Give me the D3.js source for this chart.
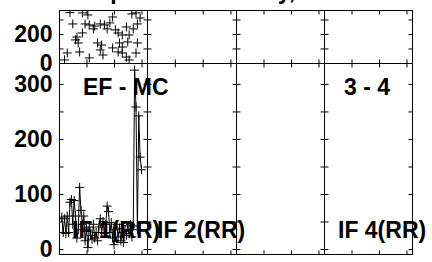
<!DOCTYPE html>
<html>
<head>
<meta charset="utf-8">
<script src="https://cdn.jsdelivr.net/npm/d3@7"></script>
<style>
    html, body { margin: 0; padding: 0; background: #fff; }
    svg { display: block; }
</style>
</head>
<body>
<div id="chart"></div>
<script>
// values
const columnCount = 4;
const xTicks = [0, 20, 40, 60];
const topYTicks = [0, 100, 200, 300];
const bottomYTicks = [0, 50, 100, 150, 200, 250, 300];
const headerLabels = ["EF - MC", "", "", "3 - 4"];
const footerLabels = ["IF 1(RR)", "IF 2(RR)", "", "IF 4(RR)"];
const titleText = "Spectrum Density, 10 - 1000";

// top row, first column: scatter of points
const scatterX = [8, 17, 21, 10, 19, 22, 26, 30, 33, 37, 39, 25, 35, 41, 43, 46, 49, 54, 57, 59, 53, 56,
    13, 12, 17, 14, 28, 31, 30, 44, 50, 51, 57, 6, 4, 15, 22, 32, 43, 46, 49, 51, 56, 46, 39];
const scatterY = [347, 345, 331, 269, 269, 262, 255, 269, 262, 276, 317, 235, 235, 228, 207, 193, 248, 235, 269, 310, 338, 345,
    179, 159, 207, 138, 138, 124, 90, 138, 145, 193, 138, 69, 21, 76, 35, 55, 76, 69, 41, 21, 69, 110, 104];

// bottom row, first column: series with markers
const seriesIndex = [2, 3, 4, 5, 6, 7, 8, 9, 10, 11, 12, 13, 14, 15, 16, 17, 18, 19, 20, 21, 22, 23, 24, 25, 26, 27, 28, 29, 30,
    31, 32, 33, 34, 35, 36, 37, 38, 39, 40, 41, 42, 43, 44, 45, 46, 47, 48, 49, 50, 51, 52, 53, 54, 55, 56, 57, 58, 59, 60];
const seriesValues = [58, 30, 55, 28, 60, 30, 85, 90, 45, 88, 60, 20, 35, 112, 70, 45, 60, 15, 38, 3, 40, 25, 18, 45, 20, 30, 15, 40, 55,
    30, 50, 28, 45, 78, 68, 30, 48, 20, 8, 35, 45, 22, 38, 15, 30, 12, 35, 25, 42, 28, 45, 22, 42, 325, 258, 35, 242, 167, 144];

class Chart {
    constructor() {
        const attrs = {
            container: "#chart",
            svgWidth: 432,
            svgHeight: 262,
            plotLeft: 59,
            plotRight: 412,
            plotTop: 10,
            rowSplit: 63,
            plotBottom: 254,
            tickSize: 4,
            markerSize: 4.5,
            fontSize: 23,
            defaultFont: "'Liberation Sans', Arial, Helvetica, sans-serif",
            headerOffsets: [24, 0, 0, 20],
            footerOffsets: [13, 10, 0, 14]
        };
        this.getState = () => attrs;
        this.setState = (d) => Object.assign(attrs, d);
    }

    render() {
        this.calculateProperties();
        this.drawSvg();
        this.drawPanels();
        this.drawData();
        this.drawLabels();
        return this;
    }

    calculateProperties() {
        const { plotLeft, plotRight, plotTop, rowSplit, plotBottom } = this.getState();

        const edgeScale = d3.scaleLinear().domain([0, columnCount]).range([plotLeft, plotRight]);
        const edges = d3.range(columnCount + 1).map(i => Math.round(edgeScale(i)));

        const xScales = edges.slice(0, -1).map((e, i) =>
            d3.scaleLinear().domain([0, 64]).range([e, edges[i + 1]]));

        const yTop = d3.scaleLinear().domain([0, 365]).range([rowSplit, plotTop]);
        const yBottom = d3.scaleLinear().domain([-9, 338]).range([plotBottom, rowSplit]);

        this.setState({ edges, xScales, yTop, yBottom });
    }

    drawSvg() {
        const { container, svgWidth, svgHeight, defaultFont, fontSize } = this.getState();

        const svg = d3.select(container)
            .append("svg")
            .attr("width", svgWidth)
            .attr("height", svgHeight)
            .attr("font-family", defaultFont)
            .attr("font-weight", "bold")
            .attr("font-size", fontSize);

        // title sits above the picture, only its descenders show
        svg.append("text")
            .attr("x", 95)
            .attr("y", -1.5)
            .text(titleText);

        this.setState({ svg });
    }

    drawPanels() {
        const { svg, edges, xScales, yTop, yBottom, tickSize, fontSize } = this.getState();

        const rows = [
            { y: yTop, ticks: topYTicks, fmt: d => (d % 200 === 0 ? d : "") },
            { y: yBottom, ticks: bottomYTicks, fmt: d => (d % 100 === 0 ? d : "") }
        ];

        rows.forEach((row, r) => {
            const [y0, y1] = row.y.range();
            xScales.forEach((x, c) => {
                const g = svg.append("g").attr("class", `panel r${r} c${c}`);
                const left = edges[c], right = edges[c + 1];

                const leftAxis = d3.axisLeft(row.y)
                    .tickValues(row.ticks)
                    .tickSize(-tickSize)
                    .tickPadding(7)
                    .tickFormat(c === 0 ? row.fmt : () => "");
                const rightAxis = d3.axisRight(row.y).tickValues(row.ticks).tickSize(-tickSize).tickFormat(() => "");
                const bottomAxis = d3.axisBottom(x).tickValues(xTicks).tickSize(-tickSize).tickFormat(() => "");
                const topAxis = d3.axisTop(x).tickValues(xTicks).tickSize(-tickSize).tickFormat(() => "");

                g.append("g").attr("transform", `translate(${left + 0.5},0)`).call(leftAxis);
                g.append("g").attr("transform", `translate(${right + 0.5},0)`).call(rightAxis);
                g.append("g").attr("transform", `translate(0,${y0 + 0.5})`).call(bottomAxis);
                g.append("g").attr("transform", `translate(0,${y1 + 0.5})`).call(topAxis);

                g.selectAll(".domain").remove();
                g.selectAll(".tick line").attr("stroke", "#000");
                g.selectAll(".tick text")
                    .attr("fill", "#000")
                    .attr("font-size", fontSize)
                    .attr("font-family", null);
                g.selectAll("g").attr("font-family", null).attr("font-size", null);

                g.append("rect")
                    .attr("x", left + 0.5)
                    .attr("y", y1 + 0.5)
                    .attr("width", right - left)
                    .attr("height", y0 - y1)
                    .attr("fill", "none")
                    .attr("stroke", "#000")
                    .attr("stroke-width", 1);
            });
        });
    }

    drawData() {
        const { svg, edges, xScales, yTop, yBottom, markerSize } = this.getState();
        const x = xScales[0];
        const m = markerSize;
        const cross = `M${-m},0H${m}M0,${-m}V${m}`;

        const clip = (id, y) => {
            const [y0, y1] = y.range();
            svg.append("clipPath").attr("id", id)
                .append("rect")
                .attr("x", edges[0]).attr("y", y1)
                .attr("width", edges[1] - edges[0]).attr("height", y0 - y1);
        };
        clip("clip-top", yTop);
        clip("clip-bottom", yBottom);

        const scatter = scatterX.map((v, i) => [v, scatterY[i]]);
        svg.append("g")
            .attr("clip-path", "url(#clip-top)")
            .selectAll("path")
            .data(scatter)
            .join("path")
            .attr("d", cross)
            .attr("transform", d => `translate(${x(d[0])},${yTop(d[1])})`)
            .attr("stroke", "#000")
            .attr("stroke-width", 1);

        const series = seriesIndex.map((v, i) => [v, seriesValues[i]]);
        const g = svg.append("g").attr("clip-path", "url(#clip-bottom)");

        g.append("path")
            .datum(series)
            .attr("d", d3.line().x(d => x(d[0])).y(d => yBottom(d[1])))
            .attr("fill", "none")
            .attr("stroke", "#000")
            .attr("stroke-width", 1);

        g.selectAll(".marker")
            .data(series)
            .join("path")
            .attr("class", "marker")
            .attr("d", cross)
            .attr("transform", d => `translate(${x(d[0])},${yBottom(d[1])})`)
            .attr("stroke", "#000")
            .attr("stroke-width", 1);
    }

    drawLabels() {
        const { svg, edges, headerOffsets, footerOffsets } = this.getState();

        svg.append("g")
            .selectAll("text")
            .data(headerLabels)
            .join("text")
            .attr("x", (d, i) => edges[i] + headerOffsets[i])
            .attr("y", 95)
            .text(d => d);

        svg.append("g")
            .selectAll("text")
            .data(footerLabels)
            .join("text")
            .attr("x", (d, i) => edges[i] + footerOffsets[i])
            .attr("y", 238)
            .text(d => d);
    }
}

new Chart().render();
</script>
</body>
</html>
